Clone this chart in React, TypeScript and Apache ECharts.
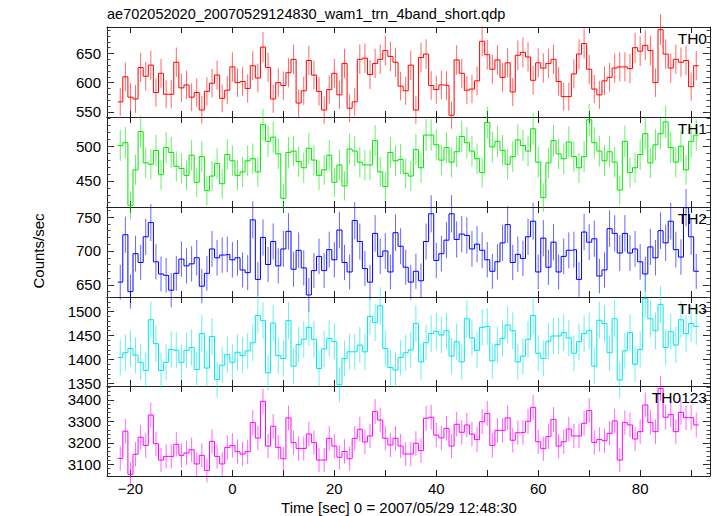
import React, { useEffect, useRef } from "react";
import * as echarts from "echarts";

// ---------------- data ----------------
const TITLE = "ae702052020_20070529124830_wam1_trn_4band_short.qdp";
const X_NAME = "Time [sec] 0 = 2007/05/29 12:48:30";
const Y_NAME = "Counts/sec";
const BAND_NAMES = ["TH0", "TH1", "TH2", "TH3", "TH0123"];
const T_FIRST = -22; // centre of the first 1-s bin
const BIN = 1;

const TH0 = [
  567, 610, 575, 572, 626, 611, 630, 583, 616, 580,
  580, 635, 591, 596, 575, 583, 553, 585, 599, 613,
  573, 587, 627, 600, 602, 590, 629, 608, 661, 626,
  572, 600, 595, 617, 640, 565, 586, 638, 613, 585,
  553, 588, 616, 579, 633, 556, 567, 640, 642, 614,
  633, 640, 655, 645, 635, 594, 586, 630, 553, 643,
  649, 595, 588, 596, 595, 544, 639, 616, 587, 589,
  603, 671, 648, 623, 639, 609, 634, 584, 647, 652,
  644, 604, 634, 625, 633, 640, 602, 576, 576, 615,
  649, 667, 623, 589, 579, 603, 609, 625, 627, 627,
  624, 660, 654, 664, 655, 600, 691, 649, 625, 640,
  635, 638, 593, 629,
];
const TH1 = [
  501, 505, 415, 466, 521, 476, 474, 494, 459, 498,
  491, 471, 468, 458, 487, 448, 485, 436, 457, 475,
  446, 488, 479, 458, 463, 479, 482, 463, 531, 507,
  513, 489, 425, 491, 493, 478, 469, 497, 480, 458,
  466, 487, 448, 473, 443, 496, 493, 477, 473, 473,
  508, 463, 442, 491, 479, 481, 461, 457, 495, 469,
  516, 516, 502, 480, 498, 477, 492, 514, 505, 493,
  482, 462, 534, 499, 507, 494, 474, 485, 509, 501,
  493, 525, 477, 426, 476, 508, 489, 482, 506, 485,
  469, 485, 538, 505, 493, 479, 492, 477, 437, 507,
  462, 469, 488, 518, 476, 502, 518, 535, 498, 477,
  500, 466, 507, 516,
];
const TH2 = [
  654, 724, 640, 696, 683, 721, 742, 684, 666, 664,
  642, 667, 688, 678, 681, 690, 648, 667, 703, 690,
  694, 695, 687, 690, 672, 668, 746, 658, 720, 680,
  714, 678, 703, 729, 673, 701, 675, 635, 671, 692,
  671, 702, 687, 731, 683, 669, 745, 714, 674, 654,
  726, 692, 700, 669, 727, 707, 676, 654, 670, 656,
  714, 755, 686, 696, 716, 755, 717, 725, 723, 703,
  710, 701, 687, 670, 684, 712, 739, 683, 695, 689,
  721, 744, 669, 719, 676, 713, 669, 692, 701, 702,
  658, 728, 713, 718, 663, 672, 733, 726, 697, 726,
  697, 703, 684, 666, 706, 690, 730, 712, 744, 702,
  691, 764, 721, 670,
];
const TH3 = [
  1404, 1414, 1423, 1409, 1394, 1377, 1483, 1433, 1377, 1394,
  1421, 1419, 1394, 1419, 1425, 1379, 1454, 1382, 1448, 1358,
  1388, 1410, 1394, 1415, 1408, 1418, 1435, 1492, 1481, 1372,
  1476, 1408, 1402, 1481, 1386, 1431, 1442, 1467, 1442, 1381,
  1422, 1444, 1437, 1347, 1402, 1416, 1416, 1430, 1416, 1490,
  1477, 1512, 1423, 1383, 1378, 1404, 1414, 1420, 1475, 1395,
  1435, 1454, 1459, 1451, 1460, 1407, 1437, 1395, 1485, 1445,
  1419, 1467, 1469, 1397, 1431, 1444, 1472, 1460, 1395, 1407,
  1442, 1492, 1413, 1402, 1438, 1449, 1449, 1456, 1445, 1413,
  1437, 1454, 1460, 1386, 1482, 1475, 1414, 1485, 1357, 1418,
  1456, 1390, 1421, 1527, 1485, 1460, 1515, 1425, 1458, 1430,
  1483, 1454, 1475, 1469,
];
const TH0123 = [
  3128, 3254, 3054, 3147, 3226, 3188, 3329, 3196, 3120, 3137,
  3137, 3193, 3142, 3153, 3168, 3102, 3142, 3072, 3207, 3137,
  3102, 3179, 3188, 3159, 3148, 3159, 3294, 3222, 3393, 3185,
  3277, 3179, 3126, 3316, 3201, 3174, 3174, 3241, 3201, 3120,
  3120, 3221, 3185, 3133, 3160, 3126, 3221, 3263, 3204, 3232,
  3345, 3306, 3221, 3190, 3221, 3185, 3148, 3148, 3198, 3164,
  3314, 3319, 3236, 3223, 3267, 3185, 3286, 3249, 3283, 3240,
  3215, 3298, 3337, 3188, 3258, 3258, 3316, 3212, 3247, 3249,
  3300, 3365, 3205, 3173, 3229, 3309, 3185, 3205, 3264, 3232,
  3232, 3291, 3350, 3202, 3216, 3210, 3244, 3302, 3120, 3294,
  3283, 3218, 3252, 3376, 3295, 3252, 3453, 3319, 3331, 3252,
  3342, 3317, 3317, 3283,
];
const BANDS = [TH0, TH1, TH2, TH3, TH0123];

const X_TICKS = [-20, -10, 0, 10, 20, 30, 40, 50, 60, 70, 80, 90];
const X_LABELS = [-20, 0, 20, 40, 60, 80];
const Y_LABELS = [
  [550, 600, 650],
  [450, 500],
  [650, 700, 750],
  [1350, 1400, 1450, 1500],
  [3100, 3200, 3300, 3400],
];
const Y_MINOR_STEP = [10, 10, 10, 10, 20];
const Y_RANGES = [
  [541, 695.5],
  [412.5, 542],
  [632, 765],
  [1344.5, 1530.5],
  [3046, 3464],
];
const X_RANGE = [-24.6, 93.7];

// ---------------- layout / style ----------------
const FONT = '"Liberation Sans", Arial, Helvetica, sans-serif';
const COLORS = ["#ff0000", "#00e600", "#0000ff", "#00e6e6", "#ff00ff"];
const TOPS = [27, 117, 207, 297, 386];
const HEIGHTS = [90, 90, 90, 89, 90];
const LEFT = 107;
const WIDTH = 603;

const fmtX = (v: number) => (v < 0 ? "\u2212" + Math.abs(v) : String(v));
const fmtY = (v: number) => String(Math.round(v));

function minorValues(range: number[], step: number) {
  const out: number[] = [];
  for (let v = Math.ceil(range[0] / step) * step; v <= range[1]; v += step) out.push(v);
  return out;
}

function buildOption() {
  const grid: any[] = [];
  const xAxis: any[] = [];
  const yAxis: any[] = [];
  const series: any[] = [];
  const graphic: any[] = [];

  BANDS.forEach((vals, i) => {
    grid.push({ left: LEFT, width: WIDTH, top: TOPS[i], height: HEIGHTS[i], show: false });
    const axisLine = { show: true, onZero: false, lineStyle: { color: "#222", width: 1 } };
    ["bottom", "top"].forEach((pos) => {
      xAxis.push({
        type: "value",
        gridIndex: i,
        position: pos,
        min: X_RANGE[0],
        max: X_RANGE[1],
        axisLine,
        axisTick: { show: true, inside: true, length: 6, customValues: X_TICKS, lineStyle: { color: "#222" } },
        axisLabel: {
          show: i === BANDS.length - 1 && pos === "bottom",
          customValues: X_LABELS,
          formatter: fmtX,
          color: "#000",
          fontSize: 15,
          fontFamily: FONT,
          margin: 5,
        },
        splitLine: { show: false },
      });
    });
    const minors = minorValues(Y_RANGES[i], Y_MINOR_STEP[i]);
    ["left", "right"].forEach((pos) => {
      yAxis.push({
        type: "value",
        gridIndex: i,
        position: pos,
        min: Y_RANGES[i][0],
        max: Y_RANGES[i][1],
        axisLine,
        axisTick: { show: true, inside: true, length: 7, customValues: Y_LABELS[i], lineStyle: { color: "#222" } },
        axisLabel: {
          show: pos === "left",
          customValues: Y_LABELS[i],
          formatter: fmtY,
          color: "#000",
          fontSize: 15,
          fontFamily: FONT,
          margin: 6,
        },
        splitLine: { show: false },
      });
      yAxis.push({
        type: "value",
        gridIndex: i,
        position: pos,
        min: Y_RANGES[i][0],
        max: Y_RANGES[i][1],
        axisLine: { show: false, onZero: false },
        axisTick: { show: true, inside: true, length: 3.5, customValues: minors, lineStyle: { color: "#444" } },
        axisLabel: { show: false },
        splitLine: { show: false },
      });
    });

    const edges: number[][] = vals.map((v, k) => [T_FIRST + k * BIN - BIN / 2, v]);
    edges.push([T_FIRST + (vals.length - 1) * BIN + BIN / 2, vals[vals.length - 1]]);
    const color = COLORS[i];
    series.push({
      type: "line",
      xAxisIndex: 2 * i,
      yAxisIndex: 4 * i,
      data: edges,
      step: "end",
      symbol: "none",
      silent: true,
      lineStyle: { color, width: 1 },
      z: 3,
    });
    series.push({
      type: "custom",
      xAxisIndex: 2 * i,
      yAxisIndex: 4 * i,
      clip: false,
      silent: true,
      encode: { x: 0, y: 1 },
      data: vals.map((v, k) => [T_FIRST + k * BIN, v, Math.sqrt(v)]),
      renderItem: (params: any, api: any) => {
        const t = api.value(0);
        const v = api.value(1);
        const e = api.value(2);
        const p1 = api.coord([t, v + e]);
        const p2 = api.coord([t, v - e]);
        return {
          type: "line",
          shape: { x1: p1[0], y1: p1[1], x2: p2[0], y2: p2[1] },
          style: { stroke: color, lineWidth: 1, opacity: 0.6 },
        };
      },
      z: 2,
    });

    graphic.push({
      type: "text",
      x: 707,
      y: TOPS[i] + 11,
      z: 10,
      style: {
        text: BAND_NAMES[i],
        textAlign: "right",
        textVerticalAlign: "middle",
        font: `15.5px ${FONT}`,
        fill: "#000",
      },
    });
  });

  graphic.push({
    type: "text",
    x: 107,
    y: 14,
    style: { text: TITLE, textAlign: "left", textVerticalAlign: "middle", font: `14.5px ${FONT}`, fill: "#000" },
  });
  graphic.push({
    type: "text",
    x: 399,
    y: 507,
    style: { text: X_NAME, textAlign: "center", textVerticalAlign: "middle", font: `15px ${FONT}`, fill: "#000" },
  });
  graphic.push({
    type: "text",
    x: 38,
    y: 251,
    rotation: Math.PI / 2,
    style: { text: Y_NAME, textAlign: "center", textVerticalAlign: "middle", font: `15px ${FONT}`, fill: "#000" },
  });

  return {
    animation: false,
    backgroundColor: "#ffffff",
    grid,
    xAxis,
    yAxis,
    series,
    graphic,
  };
}

export default function App() {
  const ref = useRef<HTMLDivElement>(null);
  useEffect(() => {
    if (!ref.current) return;
    const chart = echarts.init(ref.current, null, { renderer: "svg" });
    chart.setOption(buildOption() as any);
    return () => chart.dispose();
  }, []);
  return <div ref={ref} style={{ width: 717, height: 516, position: "absolute", left: 0, top: 0 }} />;
}
